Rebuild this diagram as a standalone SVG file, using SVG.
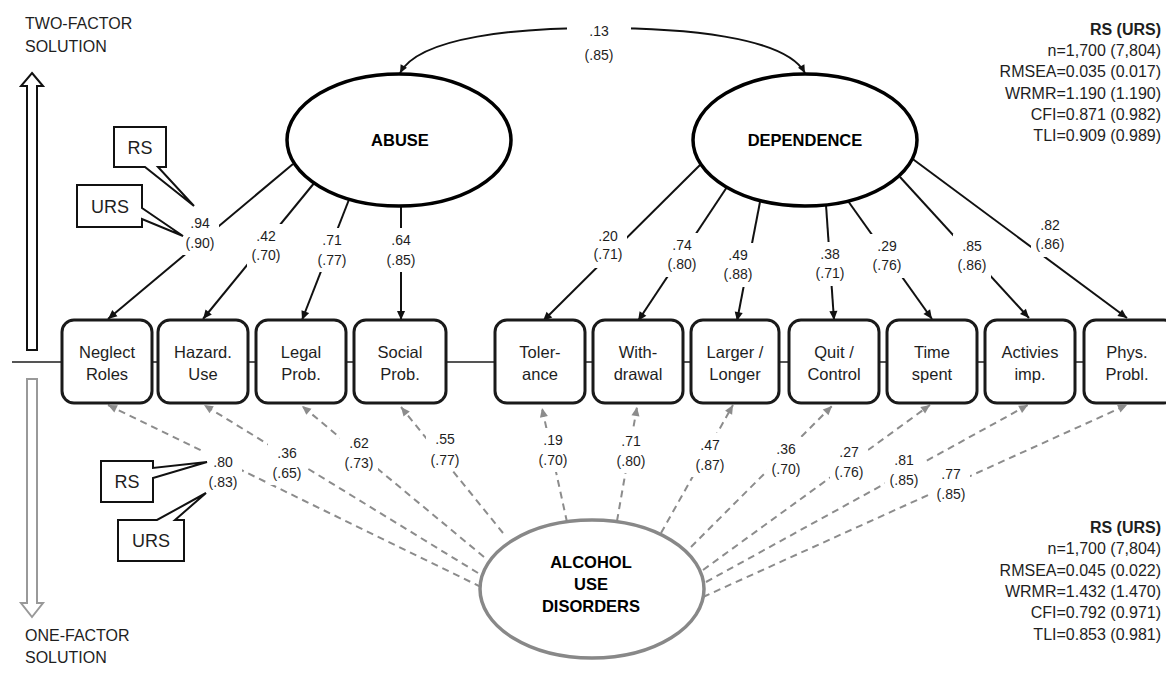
<svg xmlns="http://www.w3.org/2000/svg" width="1166" height="675" viewBox="0 0 1166 675">
<defs>
<style>
.t{font-family:"Liberation Sans",Arial,sans-serif;fill:#1e1e1e}
.box{fill:#fff;stroke:#1a1a1a;stroke-width:3}
.bt{font-size:16.5px;text-anchor:middle}
.ld{font-size:14px;text-anchor:middle}
.st{font-size:16px;text-anchor:end}
.lat{fill:#fff;stroke:#000;stroke-width:3.5}
.lt{font-family:"Liberation Sans",Arial,sans-serif;font-size:16.5px;font-weight:bold;text-anchor:middle;fill:#000}
.sl{fill:none;stroke:#111;stroke-width:2;marker-end:url(#ab)}
.dl{fill:none;stroke:#8c8c8c;stroke-width:2;stroke-dasharray:7 5;marker-end:url(#ag)}
.gap{fill:#fff}
.co{fill:#fff;stroke:#111;stroke-width:2}
.ct{font-size:18px;text-anchor:middle}
</style>
<marker id="ab" viewBox="0 0 10 10" refX="10" refY="5" markerWidth="10" markerHeight="9" markerUnits="userSpaceOnUse" orient="auto"><path d="M0,0.5 L10,5 L0,9.5 z" fill="#111"/></marker>
<marker id="ag" viewBox="0 0 10 10" refX="10" refY="5" markerWidth="10" markerHeight="9" markerUnits="userSpaceOnUse" orient="auto"><path d="M0,0.5 L10,5 L0,9.5 z" fill="#8c8c8c"/></marker>
<marker id="ac" viewBox="0 0 10 10" refX="10" refY="5" markerWidth="9" markerHeight="8" markerUnits="userSpaceOnUse" orient="auto-start-reverse"><path d="M0,0.5 L10,5 L0,9.5 z" fill="#111"/></marker>
</defs>
<rect width="1166" height="675" fill="#fff"/>

<g id="side-labels">
<text class="t" x="25" y="29" font-size="16">TWO-FACTOR</text>
<text class="t" x="25" y="52" font-size="16">SOLUTION</text>
<text class="t" x="25" y="641" font-size="16">ONE-FACTOR</text>
<text class="t" x="25" y="663" font-size="16">SOLUTION</text>
<path d="M32,73 L43,86 L37,86 L37,350 L27,350 L27,86 L21,86 Z" fill="#fff" stroke="#111" stroke-width="2"/>
<path d="M32,617 L43,603 L37,603 L37,379 L27,379 L27,603 L21,603 Z" fill="#fff" stroke="#999" stroke-width="2"/>
</g>

<line x1="12" y1="362" x2="1166" y2="362" stroke="#555" stroke-width="2"/>

<g id="connectors">
<path d="M400,73 C420,36 520,28 599,28 C680,28 785,36 805,73" fill="none" stroke="#111" stroke-width="2" marker-start="url(#ac)" marker-end="url(#ac)"/>
<line class="sl" x1="293" y1="164" x2="108" y2="319"/>
<line class="sl" x1="315" y1="182" x2="203" y2="319"/>
<line class="sl" x1="350" y1="197" x2="302" y2="320"/>
<line class="sl" x1="401" y1="206" x2="401" y2="320"/>
<line class="sl" x1="700" y1="165" x2="543" y2="321"/>
<line class="sl" x1="727" y1="187" x2="638" y2="321"/>
<line class="sl" x1="760" y1="202" x2="737" y2="321"/>
<line class="sl" x1="826" y1="205" x2="834" y2="320"/>
<line class="sl" x1="848" y1="201" x2="932" y2="319"/>
<line class="sl" x1="900" y1="177" x2="1029" y2="318"/>
<line class="sl" x1="910" y1="157" x2="1127" y2="318"/>
<line class="dl" x1="481" y1="587" x2="108" y2="405"/>
<line class="dl" x1="478" y1="573" x2="204" y2="405"/>
<line class="dl" x1="484" y1="557" x2="302" y2="406"/>
<line class="dl" x1="503" y1="533" x2="401" y2="407"/>
<line class="dl" x1="567" y1="522" x2="542" y2="408"/>
<line class="dl" x1="617" y1="521" x2="637" y2="407"/>
<line class="dl" x1="661" y1="533" x2="733" y2="405"/>
<line class="dl" x1="691" y1="547" x2="832" y2="406"/>
<line class="dl" x1="703" y1="570" x2="930" y2="405"/>
<line class="dl" x1="706" y1="582" x2="1028" y2="405"/>
<line class="dl" x1="703" y1="597" x2="1127" y2="405"/>
</g>

<g id="loading-labels">
<rect class="gap" x="567" y="14" width="64" height="50"/>
<text class="t ld" x="599" y="36">.13</text><text class="t ld" x="599" y="60">(.85)</text>
<rect class="gap" x="181" y="211" width="38" height="44"/>
<text class="t ld" x="200" y="228">.94</text><text class="t ld" x="200" y="248">(.90)</text>
<rect class="gap" x="247" y="224" width="38" height="44"/>
<text class="t ld" x="266" y="241">.42</text><text class="t ld" x="266" y="260">(.70)</text>
<rect class="gap" x="313" y="228" width="38" height="44"/>
<text class="t ld" x="332" y="245">.71</text><text class="t ld" x="332" y="265">(.77)</text>
<rect class="gap" x="382" y="228" width="38" height="44"/>
<text class="t ld" x="401" y="245">.64</text><text class="t ld" x="401" y="265">(.85)</text>
<rect class="gap" x="589" y="224" width="38" height="44"/>
<text class="t ld" x="608" y="241">.20</text><text class="t ld" x="608" y="259">(.71)</text>
<rect class="gap" x="663" y="233" width="38" height="44"/>
<text class="t ld" x="682" y="250">.74</text><text class="t ld" x="682" y="269">(.80)</text>
<rect class="gap" x="719" y="243" width="38" height="44"/>
<text class="t ld" x="738" y="260">.49</text><text class="t ld" x="738" y="279">(.88)</text>
<rect class="gap" x="811" y="242" width="38" height="44"/>
<text class="t ld" x="830" y="259">.38</text><text class="t ld" x="830" y="278">(.71)</text>
<rect class="gap" x="868" y="234" width="38" height="44"/>
<text class="t ld" x="887" y="251">.29</text><text class="t ld" x="887" y="270">(.76)</text>
<rect class="gap" x="953" y="234" width="38" height="44"/>
<text class="t ld" x="972" y="251">.85</text><text class="t ld" x="972" y="270">(.86)</text>
<rect class="gap" x="1031" y="213" width="38" height="44"/>
<text class="t ld" x="1050" y="230">.82</text><text class="t ld" x="1050" y="249">(.86)</text>
<rect class="gap" x="204" y="450" width="38" height="44"/>
<text class="t ld" x="223" y="467">.80</text><text class="t ld" x="223" y="487">(.83)</text>
<rect class="gap" x="268" y="441" width="38" height="44"/>
<text class="t ld" x="287" y="458">.36</text><text class="t ld" x="287" y="478">(.65)</text>
<rect class="gap" x="340" y="431" width="38" height="44"/>
<text class="t ld" x="359" y="448">.62</text><text class="t ld" x="359" y="468">(.73)</text>
<rect class="gap" x="426" y="427" width="38" height="44"/>
<text class="t ld" x="445" y="444">.55</text><text class="t ld" x="445" y="465">(.77)</text>
<rect class="gap" x="534" y="428" width="38" height="44"/>
<text class="t ld" x="553" y="445">.19</text><text class="t ld" x="553" y="465">(.70)</text>
<rect class="gap" x="612" y="429" width="38" height="44"/>
<text class="t ld" x="631" y="446">.71</text><text class="t ld" x="631" y="466">(.80)</text>
<rect class="gap" x="691" y="433" width="38" height="44"/>
<text class="t ld" x="710" y="450">.47</text><text class="t ld" x="710" y="470">(.87)</text>
<rect class="gap" x="767" y="437" width="38" height="44"/>
<text class="t ld" x="786" y="454">.36</text><text class="t ld" x="786" y="474">(.70)</text>
<rect class="gap" x="830" y="440" width="38" height="44"/>
<text class="t ld" x="849" y="457">.27</text><text class="t ld" x="849" y="477">(.76)</text>
<rect class="gap" x="885" y="448" width="38" height="44"/>
<text class="t ld" x="904" y="465">.81</text><text class="t ld" x="904" y="485">(.85)</text>
<rect class="gap" x="932" y="462" width="38" height="44"/>
<text class="t ld" x="951" y="479">.77</text><text class="t ld" x="951" y="499">(.85)</text>
</g>

<g id="abuse"><ellipse class="lat" cx="399" cy="140" rx="112" ry="66"/><text class="lt" x="400" y="146">ABUSE</text></g>
<g id="dependence"><ellipse class="lat" cx="805" cy="140" rx="112" ry="66"/><text class="lt" x="805" y="146">DEPENDENCE</text></g>
<g id="aud"><ellipse cx="592" cy="589" rx="112" ry="69" fill="#fff" stroke="#888" stroke-width="3.5"/>
<text class="lt" x="591" y="568">ALCOHOL</text>
<text class="lt" x="591" y="590">USE</text>
<text class="lt" x="591" y="612">DISORDERS</text></g>

<g id="neglect"><rect class="box" x="62" y="320" width="90" height="83" rx="12"/><text class="t bt" x="107" y="358">Neglect</text><text class="t bt" x="107" y="380">Roles</text></g>
<g id="hazard"><rect class="box" x="158" y="320" width="90" height="83" rx="12"/><text class="t bt" x="203" y="358">Hazard.</text><text class="t bt" x="203" y="380">Use</text></g>
<g id="legal"><rect class="box" x="256" y="320" width="90" height="83" rx="12"/><text class="t bt" x="301" y="358">Legal</text><text class="t bt" x="301" y="380">Prob.</text></g>
<g id="social"><rect class="box" x="354" y="320" width="92" height="83" rx="12"/><text class="t bt" x="400" y="358">Social</text><text class="t bt" x="400" y="380">Prob.</text></g>
<g id="tolerance"><rect class="box" x="495" y="320" width="90" height="83" rx="12"/><text class="t bt" x="540" y="358">Toler-</text><text class="t bt" x="540" y="380">ance</text></g>
<g id="withdrawal"><rect class="box" x="593" y="320" width="90" height="83" rx="12"/><text class="t bt" x="638" y="358">With-</text><text class="t bt" x="638" y="380">drawal</text></g>
<g id="larger"><rect class="box" x="691" y="320" width="88" height="83" rx="12"/><text class="t bt" x="735" y="358">Larger /</text><text class="t bt" x="735" y="380">Longer</text></g>
<g id="quit"><rect class="box" x="789" y="320" width="90" height="83" rx="12"/><text class="t bt" x="834" y="358">Quit /</text><text class="t bt" x="834" y="380">Control</text></g>
<g id="time"><rect class="box" x="887" y="320" width="90" height="83" rx="12"/><text class="t bt" x="932" y="358">Time</text><text class="t bt" x="932" y="380">spent</text></g>
<g id="activities"><rect class="box" x="985" y="320" width="90" height="83" rx="12"/><text class="t bt" x="1030" y="358">Activies</text><text class="t bt" x="1030" y="380">imp.</text></g>
<g id="phys"><rect class="box" x="1084" y="320" width="92" height="83" rx="12"/><text class="t bt" x="1127" y="358">Phys.</text><text class="t bt" x="1127" y="380">Probl.</text></g>

<g id="callout-rs-top"><path class="co" d="M114,127 H166 V167 H158 L194,206 L145,167 H114 Z"/><text class="t ct" x="140" y="154">RS</text></g>
<g id="callout-urs-top"><path class="co" d="M77,185 H142 V208 L183,236 L142,219 V227 H77 Z"/><text class="t ct" x="110" y="213">URS</text></g>
<g id="callout-rs-bottom"><path class="co" d="M101,461 H153 V468 L207,462 L153,478 V502 H101 Z"/><text class="t ct" x="127" y="488">RS</text></g>
<g id="callout-urs-bottom"><path class="co" d="M118,520 H157 L206,493 L175,520 H184 V561 H118 Z"/><text class="t ct" x="151" y="547">URS</text></g>

<g id="fit-two">
<text class="t st" x="1161" y="35" font-weight="bold">RS (URS)</text>
<text class="t st" x="1161" y="56">n=1,700 (7,804)</text>
<text class="t st" x="1161" y="77">RMSEA=0.035 (0.017)</text>
<text class="t st" x="1161" y="99">WRMR=1.190 (1.190)</text>
<text class="t st" x="1161" y="120">CFI=0.871 (0.982)</text>
<text class="t st" x="1161" y="141">TLI=0.909 (0.989)</text>
</g>
<g id="fit-one">
<text class="t st" x="1161" y="533" font-weight="bold">RS (URS)</text>
<text class="t st" x="1161" y="554">n=1,700 (7,804)</text>
<text class="t st" x="1161" y="576">RMSEA=0.045 (0.022)</text>
<text class="t st" x="1161" y="597">WRMR=1.432 (1.470)</text>
<text class="t st" x="1161" y="618">CFI=0.792 (0.971)</text>
<text class="t st" x="1161" y="640">TLI=0.853 (0.981)</text>
</g>
</svg>
